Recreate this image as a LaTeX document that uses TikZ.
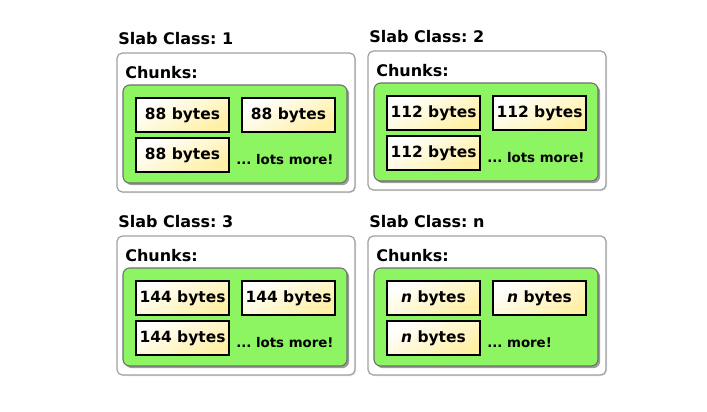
\documentclass[tikz,border=0pt]{standalone}
\usepackage{fontspec}
\setmainfont{DejaVu Sans}
\frenchspacing
\usetikzlibrary{shadows}
\definecolor{slabgreen}{RGB}{142,245,98}
\definecolor{chunkyel}{RGB}{255,240,165}
\definecolor{outerline}{RGB}{160,160,160}
\definecolor{greenline}{RGB}{110,110,110}
\tikzset{
  slabtitle/.style={anchor=base west, inner sep=0pt, font=\fontsize{12pt}{14pt}\selectfont\bfseries},
  outerbox/.style={draw=outerline, line width=0.9pt, fill=white, rounded corners=4pt,
    minimum width=178.5pt, minimum height=104.25pt, inner sep=0pt,
    drop shadow={shadow xshift=0.8pt, shadow yshift=-0.8pt, opacity=0.25}},
  chunkslabel/.style={anchor=base west, inner sep=0pt, font=\fontsize{12pt}{14pt}\selectfont\bfseries},
  greenbox/.style={draw=greenline, line width=0.8pt, fill=slabgreen, rounded corners=5pt,
    minimum width=168pt, minimum height=73.5pt, inner sep=0pt,
    drop shadow={shadow xshift=1.6pt, shadow yshift=-1.6pt, opacity=0.55, fill=black!70}},
  chunkbox/.style={draw=black, line width=0.8pt, shading=axis, top color=white, bottom color=chunkyel,
    shading angle=30, minimum width=69.75pt, minimum height=25.5pt, inner sep=0pt,
    font=\fontsize{11.6pt}{13pt}\selectfont\bfseries},
  moretext/.style={anchor=base west, inner sep=0pt, font=\fontsize{10pt}{12pt}\selectfont\bfseries}
}
\newcommand\slabpanel[6]{%
  \begin{scope}[shift={(#1,#2)}]
    \node[slabtitle] (#3title) at (1,-9) {Slab Class: #4};
    \node[outerbox] (#3outer) at (119,69.5) {};
    \node[chunkslabel] (#3chunks) at (8,25) {Chunks:};
    \node[greenbox] (#3green) at (118,81) {};
    \node[chunkbox] (#3a) at (65.5,62) {#5};
    \node[chunkbox] (#3b) at (171.5,62) {#5};
    \node[chunkbox] (#3c) at (65.5,102) {#5};
    \node[moretext] (#3more) at (119,111) {#6};
  \end{scope}}
\begin{document}
\begin{tikzpicture}[x=0.75pt, y=-0.75pt]
\useasboundingbox (0,0) rectangle (707,411);
\slabpanel{117}{53}{p1}{1}{88 bytes}{... lots more!}
\slabpanel{368}{51}{p2}{2}{112 bytes}{... lots more!}
\slabpanel{117}{236}{p3}{3}{144 bytes}{... lots more!}
\slabpanel{368}{236}{p4}{n}{\textit{n} bytes}{... more!}
\end{tikzpicture}
\end{document}
